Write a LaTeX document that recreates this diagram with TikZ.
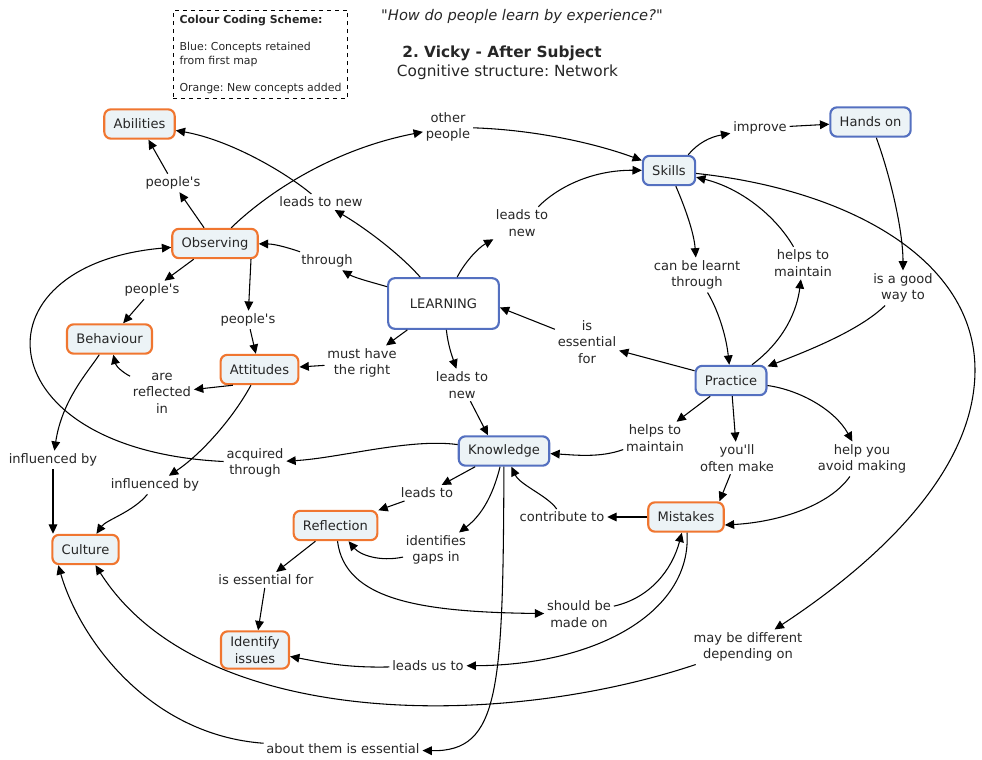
\documentclass[tikz,border=0pt]{standalone}
\usepackage{fontspec}
\setmainfont{DejaVu Sans}[Ligatures=TeXOff]
\usetikzlibrary{arrows.meta}
\definecolor{conceptfill}{RGB}{236,243,246}
\definecolor{neworange}{RGB}{240,118,48}
\definecolor{oldblue}{RGB}{84,112,192}
\definecolor{textgray}{RGB}{38,38,38}
\newcommand{\mapfont}{\fontsize{9.8}{12.4}\selectfont}
\newcommand{\legendfont}{\fontsize{8.2}{10.5}\selectfont}
\frenchspacing
\tikzset{
    concept/.style={rectangle, rounded corners=5pt, line width=1.6pt, fill=conceptfill,
        minimum height=22pt, inner xsep=7pt, inner ysep=4pt, align=center,
        font=\mapfont, text=textgray},
    added/.style={concept, draw=neworange},
    retained/.style={concept, draw=oldblue},
    phrase/.style={align=center, font=\mapfont, text=textgray, inner sep=2pt},
    link/.style={-{Triangle[length=7pt,width=6.5pt]}, line width=0.8pt}
}
\begin{document}
\begin{tikzpicture}[x=0.75pt, y=-0.75pt]
    \useasboundingbox (0,0) rectangle (982,760);

    % heading and legend
    \node[draw, dashed, line width=0.6pt, minimum width=131pt, minimum height=66pt,
        align=left, font=\legendfont, text=textgray] (legend) at (260.5,54.5)
        {\textbf{Colour Coding Scheme:}\\[9.5pt]Blue: Concepts retained\\from first map\\[9.5pt]Orange: New concepts added};
    \node[font=\itshape\fontsize{11}{13}\selectfont, text=textgray] (question) at (522,16) {"How do people learn by experience?"};
    \node[font=\bfseries\fontsize{11.5}{14}\selectfont, text=textgray] (title) at (502,53) {2. Vicky - After Subject};
    \node[font=\fontsize{11.5}{14}\selectfont, text=textgray] (subtitle) at (507.5,72) {Cognitive structure: Network};

    % concepts
    \node[added] (abil) at (139.5,124) {Abilities};
    \node[added] (obs) at (215,243.5) {Observing};
    \node[added] (beh) at (109.5,339) {Behaviour};
    \node[added] (att) at (259.5,369.5) {Attitudes};
    \node[retained, fill=white, minimum width=83pt, minimum height=38pt] (learn) at (443.5,303.5) {LEARNING};
    \node[retained] (skills) at (669,170.5) {Skills};
    \node[retained] (hands) at (870.5,122) {Hands on};
    \node[retained] (prac) at (731,380.5) {Practice};
    \node[retained] (know) at (504,451) {Knowledge};
    \node[added] (refl) at (335.5,525.5) {Reflection};
    \node[added] (mist) at (686,517) {Mistakes};
    \node[added] (cult) at (85.5,549.5) {Culture};
    \node[added] (ident) at (255,650) {Identify\\issues};

    % linking phrases
    \node[phrase] (pAbil) at (173,183) {people's};
    \node[phrase] (othPpl) at (448,127) {other\\people};
    \node[phrase] (ltnAbil) at (321,202) {leads to new};
    \node[phrase] (thru) at (327,261) {through};
    \node[phrase] (impr) at (760,128) {improve};
    \node[phrase] (ltnSkill) at (522,223) {leads to\\new};
    \node[phrase] (pBeh) at (152,290) {people's};
    \node[phrase] (pAtt) at (248,320) {people's};
    \node[phrase] (learnt) at (697,275) {can be learnt\\through};
    \node[phrase] (maintSk) at (803,263) {helps to\\maintain};
    \node[phrase] (goodWay) at (903,288) {is a good\\way to};
    \node[phrase] (essLearn) at (587,342) {is\\essential\\for};
    \node[phrase] (mustHave) at (362,363) {must have\\the right};
    \node[phrase] (ltnKnow) at (462,385) {leads to\\new};
    \node[phrase] (reflIn) at (162,393) {are\\reflected\\in};
    \node[phrase] (maintKn) at (655,438) {helps to\\maintain};
    \node[phrase] (oftenMake) at (737,458) {you'll\\often make};
    \node[phrase] (avoidMk) at (862,459) {help you\\avoid making};
    \node[phrase] (inflBeh) at (53,460) {influenced by};
    \node[phrase] (acqThru) at (255,463) {acquired\\through};
    \node[phrase] (inflAtt) at (155,485) {influenced by};
    \node[phrase] (leadsTo) at (427,493) {leads to};
    \node[phrase] (contrib) at (562,517) {contribute to};
    \node[phrase] (gaps) at (436,550) {identifies\\gaps in};
    \node[phrase] (essIdent) at (266,580) {is essential for};
    \node[phrase] (madeOn) at (579,614) {should be\\made on};
    \node[phrase] (differ) at (748,647) {may be different\\depending on};
    \node[phrase] (leadsUs) at (428,666) {leads us to};
    \node[phrase] (aboutThem) at (343,749) {about them is essential};

    % connectors
    \draw[link] (obs) -- (pAbil);
    \draw[link] (pAbil) -- (abil);
    \draw[link] (learn) .. controls (398,252) and (362,226) .. (ltnAbil);
    \draw[link] (ltnAbil) .. controls (285,172) and (230,140) .. (abil);
    \draw[link] (obs) .. controls (265,195) and (330,150) .. (othPpl);
    \draw[link] (othPpl) .. controls (540,130) and (600,145) .. (skills);
    \draw[link] (learn) .. controls (378,284) and (355,278) .. (thru);
    \draw[link] (thru) .. controls (292,249) and (276,244) .. (obs);
    \draw[link] (learn) .. controls (465,262) and (478,248) .. (ltnSkill);
    \draw[link] (ltnSkill) .. controls (560,185) and (595,170) .. (skills);
    \draw[link] ([xshift=-6pt]skills.north east) .. controls (698,143) and (710,137) .. (impr);
    \draw[link] (impr) -- (hands);
    \draw[link] (skills) .. controls (684,205) and (694,232) .. (learnt);
    \draw[link] (learnt) .. controls (718,310) and (726,335) .. (prac);
    \draw[link] (prac) .. controls (785,340) and (797,310) .. (maintSk);
    \draw[link] (maintSk) .. controls (775,215) and (740,188) .. (skills);
    \draw[link] (hands) .. controls (890,175) and (903,230) .. (goodWay);
    \draw[link] (goodWay) .. controls (860,330) and (810,350) .. (prac);
    \draw[link] (prac) -- (essLearn);
    \draw[link] (essLearn) -- ([yshift=-3pt]learn.east);
    \draw[link] (learn) -- (mustHave);
    \draw[link] (mustHave) -- (att);
    \draw[link] (learn) .. controls (448,345) and (452,356) .. (ltnKnow);
    \draw[link] (ltnKnow) -- ([xshift=-12pt]know.north);
    \draw[link] (obs) -- (pBeh);
    \draw[link] (pBeh) -- (beh);
    \draw[link] ([xshift=27pt]obs.south) -- (pAtt);
    \draw[link] (pAtt) -- (att);
    \draw[link] ([xshift=10pt]att.south west) -- (reflIn);
    \draw[link] (reflIn) .. controls (122,372) and (116,366) .. (beh);
    \draw[link] (beh) .. controls (88,372) and (62,400) .. (inflBeh);
    \draw[link] (inflBeh) -- (inflBeh |- cult.north);
    \draw[link] (att) .. controls (232,420) and (200,455) .. (inflAtt);
    \draw[link] (inflAtt) .. controls (133,512) and (106,520) .. (cult);
    \draw[link] (know) .. controls (410,438) and (340,458) .. (acqThru);
    \draw[link] (acqThru) .. controls (-15,450) and (-30,265) .. (obs);
    \draw[link] (prac) -- (maintKn);
    \draw[link] (maintKn) .. controls (600,458) and (575,455) .. (know);
    \draw[link] (prac) -- (oftenMake);
    \draw[link] (oftenMake) -- ([xshift=-4pt]mist.north east);
    \draw[link] (prac) .. controls (800,390) and (835,410) .. (avoidMk);
    \draw[link] (avoidMk) .. controls (830,505) and (780,522) .. ([yshift=-6pt]mist.east);
    \draw[link] (mist) -- (contrib);
    \draw[link] (contrib) .. controls (548,496) and (520,485) .. (know);
    \draw[link] (know) -- (leadsTo);
    \draw[link] (leadsTo) -- (refl);
    \draw[link] (know) .. controls (493,495) and (482,515) .. (gaps);
    \draw[link] (gaps) .. controls (380,562) and (360,555) .. (refl);
    \draw[link] (refl) -- (essIdent);
    \draw[link] (essIdent) -- (ident);
    \draw[link] (refl) .. controls (345,600) and (420,612) .. (madeOn);
    \draw[link] (madeOn) .. controls (650,598) and (672,570) .. (mist);
    \draw[link] (mist) .. controls (692,610) and (600,665) .. (leadsUs);
    \draw[link] (leadsUs) .. controls (345,668) and (320,662) .. (ident);
    \draw[link] (skills) .. controls (850,190) and (975,260) .. (975,370)
        .. controls (975,470) and (880,560) .. (differ);
    \draw[link] (differ) .. controls (500,730) and (200,730) .. (cult);
    \draw[link] (know) .. controls (503,690) and (500,752) .. (aboutThem);
    \draw[link] (aboutThem) .. controls (150,735) and (80,640) .. (cult.210);
\end{tikzpicture}
\end{document}
